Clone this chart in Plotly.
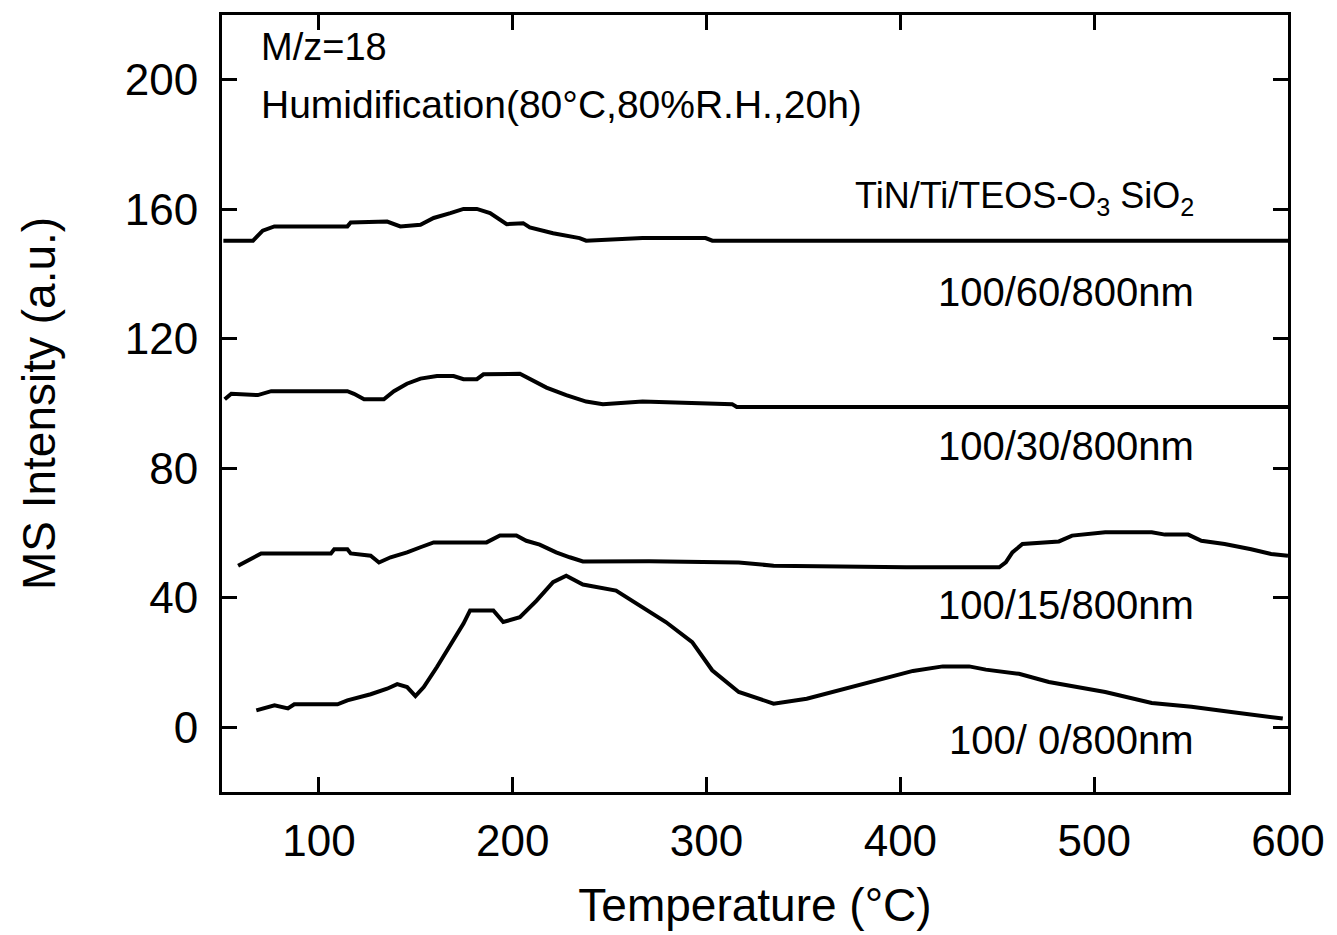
import plotly.graph_objects as go

# Temperature-programmed desorption of H2O (M/z=18) after humidification
# Curves are offset vertically for each Ti interlayer thickness.

temp_ti60 = [50.7, 66, 71, 77, 114.7, 116.4, 135.2, 142, 152.4, 159.2, 167.8, 174.6,
             181.5, 188.3, 196.9, 205.4, 208.8, 220.8, 234.5, 237.9, 267, 299.5, 303,
             340, 400, 450, 500, 550, 600]
ms_ti60 = [150.3, 150.3, 153.4, 154.7, 154.7, 155.9, 156.2, 154.7, 155.2, 157.3, 158.8, 160.1,
           160.1, 158.8, 155.4, 155.7, 154.4, 152.6, 151.1, 150.3, 151.1, 151.1, 150.3,
           150.3, 150.4, 150.3, 150.4, 150.3, 150.3]

temp_ti30 = [51.4, 54.8, 68.5, 75.4, 114.7, 118.1, 123.3, 133.5, 138.7, 145.4, 152.4, 160.9,
             169.5, 174.6, 181.5, 184.9, 203.7, 208.8, 217.4, 227.6, 237.9, 246.5, 267,
             313.2, 315.6, 360, 420, 480, 540, 600]
ms_ti30 = [101.3, 103.0, 102.6, 103.8, 103.8, 103.0, 101.3, 101.3, 103.8, 106.1, 107.7, 108.5,
           108.5, 107.5, 107.5, 109.0, 109.2, 107.5, 104.9, 102.6, 100.6, 99.8, 100.6,
           99.8, 98.9, 98.9, 98.9, 98.9, 98.9, 98.9]

temp_ti15 = [58.3, 63.4, 70.2, 106.2, 107.9, 114.7, 116.4, 126.7, 131, 137, 145.5, 152.4,
             159.2, 186.5, 193.4, 201.9, 207, 213.9, 222.4, 229.4, 236.2, 270.4, 316.6,
             334.6, 403, 451, 454.4, 457.8, 463, 481.8, 488.6, 505.7, 529.7, 536.5,
             548.5, 555.3, 567.3, 581, 591.3, 600]
ms_ti15 = [49.9, 51.5, 53.7, 53.7, 55.0, 55.0, 53.7, 53.0, 50.9, 52.5, 54.0, 55.6,
           57.1, 57.1, 59.2, 59.2, 57.6, 56.4, 54.0, 52.5, 51.2, 51.3, 50.9,
           49.9, 49.4, 49.4, 50.9, 54.0, 56.6, 57.4, 59.2, 60.2, 60.2, 59.5,
           59.5, 57.6, 56.6, 55.0, 53.5, 53.0]

temp_ti0 = [67.7, 77.1, 84, 87.3, 109.6, 114.7, 126.7, 135.2, 140.4, 145.5, 149.8, 154.1,
            160.9, 169.5, 174.6, 178, 190, 195.1, 203.7, 212.3, 220.8, 227.6, 236.2,
            253.3, 265.3, 279, 292.6, 302.9, 316.6, 334.6, 351.7, 372.2, 391, 406.5,
            421.9, 435.5, 444.1, 461.2, 476.6, 505.7, 529.7, 550.2, 570.7, 597.3]
ms_ti0 = [5.2, 6.8, 5.8, 7.1, 7.1, 8.3, 10.2, 11.9, 13.3, 12.4, 9.6, 12.4,
          18.6, 26.8, 32.0, 36.1, 36.1, 32.5, 34.0, 39.1, 44.8, 46.8, 44.1,
          42.2, 37.6, 32.5, 26.3, 17.6, 10.9, 7.3, 8.8, 11.9, 15.0, 17.4,
          18.8, 18.8, 17.8, 16.5, 14.0, 10.9, 7.5, 6.3, 4.7, 2.7]

sample_labels = ["100/60/800nm", "100/30/800nm", "100/15/800nm", "100/ 0/800nm"]
label_y = [134.5, 86.9, 37.9, -4.0]

x_ticks = [100, 200, 300, 400, 500, 600]
y_ticks = [0, 40, 80, 120, 160, 200]

FONT = "Liberation Sans, Arial, Helvetica, sans-serif"

fig = go.Figure()
for xs, ys in [(temp_ti60, ms_ti60), (temp_ti30, ms_ti30),
               (temp_ti15, ms_ti15), (temp_ti0, ms_ti0)]:
    fig.add_trace(go.Scatter(x=xs, y=ys, mode="lines",
                             line=dict(color="black", width=4),
                             showlegend=False, hoverinfo="skip"))

annotations = [
    dict(x=552.3, y=163.6, text="TiN/Ti/TEOS-O<sub>3</sub> SiO<sub>2</sub>",
         xanchor="right", yanchor="middle", font=dict(size=36)),
    dict(x=69, y=210.2, text="M/z=18", xanchor="left", yanchor="middle",
         font=dict(size=38)),
    dict(x=69, y=192.3, text="Humidification(80°C,80%R.H.,20h)",
         xanchor="left", yanchor="middle", font=dict(size=39)),
]
for txt, yv in zip(sample_labels, label_y):
    annotations.append(dict(x=552.3, y=yv, text=txt, xanchor="right",
                            yanchor="middle", font=dict(size=40)))
for a in annotations:
    a.update(xref="x", yref="y", showarrow=False)
    a["font"].update(family=FONT, color="black")

axis_common = dict(
    showline=True, linewidth=3, linecolor="black", mirror="allticks",
    ticks="inside", ticklen=15, tickwidth=3, tickcolor="black",
    showgrid=False, zeroline=False,
    tickfont=dict(family=FONT, size=44, color="black"),
    title_font=dict(family=FONT, size=46, color="black"),
)

fig.update_layout(
    width=1337, height=935,
    margin=dict(l=222, r=45, t=15, b=142),
    paper_bgcolor="white", plot_bgcolor="white",
    annotations=annotations,
    xaxis=dict(range=[50, 600], tickvals=x_ticks, title_text="Temperature (°C)",
               title_standoff=26, ticklabelstandoff=8, **axis_common),
    yaxis=dict(range=[-20, 220], tickvals=y_ticks, title_text="MS Intensity (a.u.)",
               title_standoff=55, ticklabelstandoff=12, **axis_common),
)

fig.write_html("out.html")
